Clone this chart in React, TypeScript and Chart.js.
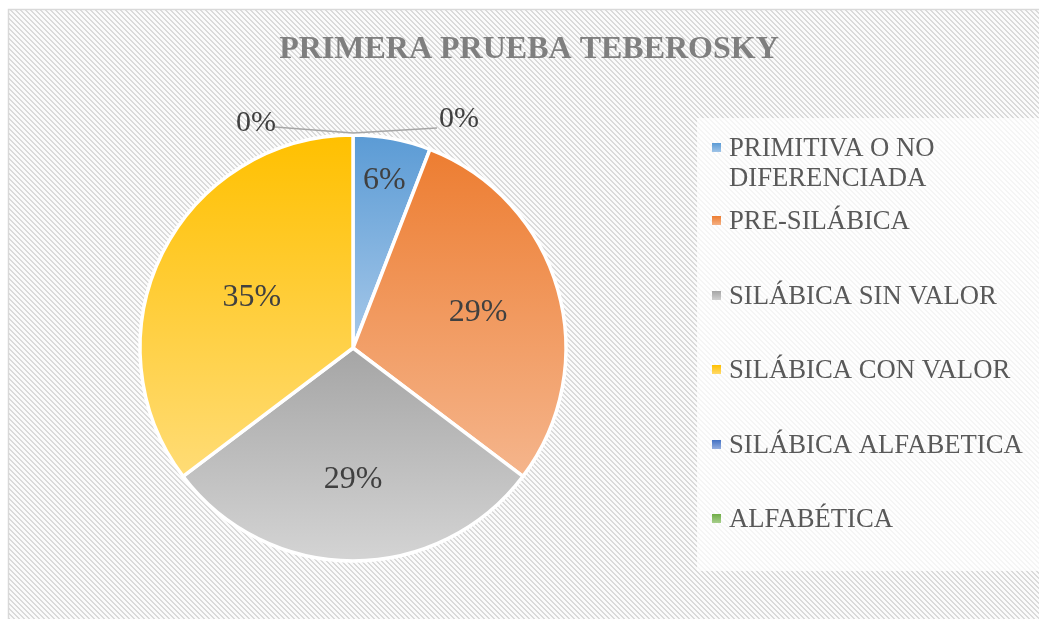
import { useEffect, useRef } from "react";
import { Chart, registerables } from "chart.js";
Chart.register(...registerables);

const title = "PRIMERA PRUEBA TEBEROSKY";
const categories = [
  "PRIMITIVA O NO DIFERENCIADA",
  "PRE-SILÁBICA",
  "SILÁBICA SIN VALOR",
  "SILÁBICA CON VALOR",
  "SILÁBICA ALFABETICA",
  "ALFABÉTICA",
];
const counts = [1, 5, 5, 6, 0, 0];
const colorsTop = ["#5B9BD5", "#ED7D31", "#A5A5A5", "#FFC000", "#4472C4", "#70AD47"];
const colorsBottom = ["#A6C8E9", "#F5B58C", "#D4D4D4", "#FFDC76", "#9DB5E2", "#ADD293"];

// label placement (fraction of radius, per slice) — layout only
const labelRadius = [0.8, 0.61, 0.62, 0.53, 1, 1];

const W = 1039;
const H = 619;
const PIE_R = 213;
const SERIF = "'Liberation Serif', 'Times New Roman', serif";

function makePattern(ctx: CanvasRenderingContext2D) {
  const n = 5;
  const c = document.createElement("canvas");
  c.width = n;
  c.height = n;
  const g = c.getContext("2d")!;
  const img = g.createImageData(n, n);
  for (let y = 0; y < n; y++) {
    for (let x = 0; x < n; x++) {
      const d = (((x - y) % n) + n) % n;
      const v = d < 2 ? 0xda : 0xfb;
      const i = (y * n + x) * 4;
      img.data[i] = v;
      img.data[i + 1] = v;
      img.data[i + 2] = v;
      img.data[i + 3] = 255;
    }
  }
  g.putImageData(img, 0, 0);
  return ctx.createPattern(c, "repeat")!;
}

function sectorBounds(cy: number, r: number, a0: number, a1: number) {
  const ys = [cy, cy + r * Math.sin(a0), cy + r * Math.sin(a1)];
  for (let k = -3; k <= 4; k++) {
    const a = Math.PI / 2 + k * Math.PI;
    if (a > a0 && a < a1) ys.push(cy + r * Math.sin(a));
  }
  return [Math.min(...ys), Math.max(...ys)];
}

export default function App() {
  const ref = useRef<HTMLCanvasElement>(null);

  useEffect(() => {
    const canvas = ref.current!;
    const total = counts.reduce((a, b) => a + b, 0);
    const percentLabels = counts.map((v) => Math.round((v / total) * 100) + "%");

    const bg = (c: any) => {
      const i = c.dataIndex;
      const chart = c.chart;
      const area = chart.chartArea;
      if (!area || i === undefined) return colorsTop[i ?? 0];
      const cx = (area.left + area.right) / 2;
      const cy = (area.top + area.bottom) / 2;
      let a0 = -Math.PI / 2;
      for (let k = 0; k < i; k++) a0 += (counts[k] / total) * Math.PI * 2;
      const a1 = a0 + (counts[i] / total) * Math.PI * 2;
      const [t, b] = sectorBounds(cy, PIE_R, a0, a1);
      const g = chart.ctx.createLinearGradient(cx, t, cx, Math.max(b, t + 1));
      g.addColorStop(0, colorsTop[i]);
      g.addColorStop(1, colorsBottom[i]);
      return g;
    };

    const decor = {
      id: "decor",
      beforeDraw(chart: any) {
        const ctx = chart.ctx as CanvasRenderingContext2D;
        ctx.save();
        ctx.fillStyle = "#ffffff";
        ctx.fillRect(0, 0, W, H);
        ctx.fillStyle = makePattern(ctx);
        ctx.fillRect(8, 9, W, H);
        ctx.strokeStyle = "#d9d9d9";
        ctx.lineWidth = 1.5;
        ctx.strokeRect(8.5, 9.5, W + 10, H + 10);
        // legend box
        ctx.fillStyle = "rgba(255,255,255,0.72)";
        ctx.fillRect(697, 118, W - 697, 453);
        // title
        ctx.fillStyle = "#7f7f7f";
        ctx.font = `bold 32px ${SERIF}`;
        ctx.textAlign = "center";
        ctx.textBaseline = "middle";
        ctx.fillText(title, 529, 50);
        ctx.restore();
      },
      afterDraw(chart: any) {
        const ctx = chart.ctx as CanvasRenderingContext2D;
        const meta = chart.getDatasetMeta(0);
        ctx.save();
        ctx.textBaseline = "middle";
        let zeroIdx = 0;
        meta.data.forEach((arc: any, i: number) => {
          const { x, y, startAngle, endAngle, outerRadius } = arc.getProps(
            ["x", "y", "startAngle", "endAngle", "outerRadius"],
            true
          );
          const frac = counts[i] / total;
          ctx.font = `32px ${SERIF}`;
          ctx.fillStyle = "#404040";
          if (frac > 0) {
            const mid = (startAngle + endAngle) / 2;
            const f = labelRadius[i];
            ctx.textAlign = "center";
            ctx.fillText(percentLabels[i], x + Math.cos(mid) * outerRadius * f, y + Math.sin(mid) * outerRadius * f);
          } else {
            const ex = x + Math.cos(startAngle) * (outerRadius + 2);
            const ey = y + Math.sin(startAngle) * (outerRadius + 2);
            const left = zeroIdx === 0;
            const lx = left ? ex - 78 : ex + 84;
            const ly = left ? ey - 6 : ey - 5;
            ctx.strokeStyle = "#a6a6a6";
            ctx.lineWidth = 1.5;
            ctx.beginPath();
            ctx.moveTo(ex, ey);
            ctx.lineTo(lx, ly);
            ctx.stroke();
            ctx.font = `30px ${SERIF}`;
            ctx.textAlign = left ? "right" : "left";
            ctx.fillText(percentLabels[i], left ? lx + 1 : lx + 2, left ? ly - 4 : ly - 9);
            zeroIdx++;
          }
        });
        // legend
        ctx.font = `26.7px ${SERIF}`;
        ctx.textAlign = "left";
        ctx.textBaseline = "middle";
        const maxW = 305;
        const itemY = [148, 221, 296, 370, 445, 519];
        categories.forEach((name, i) => {
          const words = name.split(" ");
          const lines: string[] = [];
          let cur = "";
          words.forEach((w) => {
            const test = cur ? cur + " " + w : w;
            if (ctx.measureText(test).width > maxW && cur) {
              lines.push(cur);
              cur = w;
            } else cur = test;
          });
          if (cur) lines.push(cur);
          const y0 = itemY[i];
          const g = ctx.createLinearGradient(0, y0 - 5, 0, y0 + 5);
          g.addColorStop(0, colorsTop[i]);
          g.addColorStop(1, colorsBottom[i]);
          ctx.fillStyle = g;
          ctx.fillRect(712, y0 - 5, 9, 9);
          ctx.fillStyle = "#595959";
          lines.forEach((ln, k) => ctx.fillText(ln, 729, y0 + 1 + k * 30));
        });
        ctx.restore();
      },
    };

    const chart = new Chart(canvas, {
      type: "pie",
      data: {
        labels: categories,
        datasets: [
          {
            data: counts,
            backgroundColor: bg,
            borderColor: "#ffffff",
            borderWidth: 3.5,
          },
        ],
      },
      options: {
        responsive: false,
        animation: false,
        radius: PIE_R,
        layout: { padding: { left: 140, right: W - 566, top: 135, bottom: H - 561 } },
        plugins: {
          legend: { display: false },
          tooltip: { enabled: false },
          title: { display: false },
        },
      } as any,
      plugins: [decor],
    });
    return () => chart.destroy();
  }, []);

  return (
    <div style={{ position: "fixed", left: 0, top: 0, width: W, height: H, overflow: "hidden" }}>
      <canvas ref={ref} width={W} height={H} style={{ display: "block" }} />
    </div>
  );
}
